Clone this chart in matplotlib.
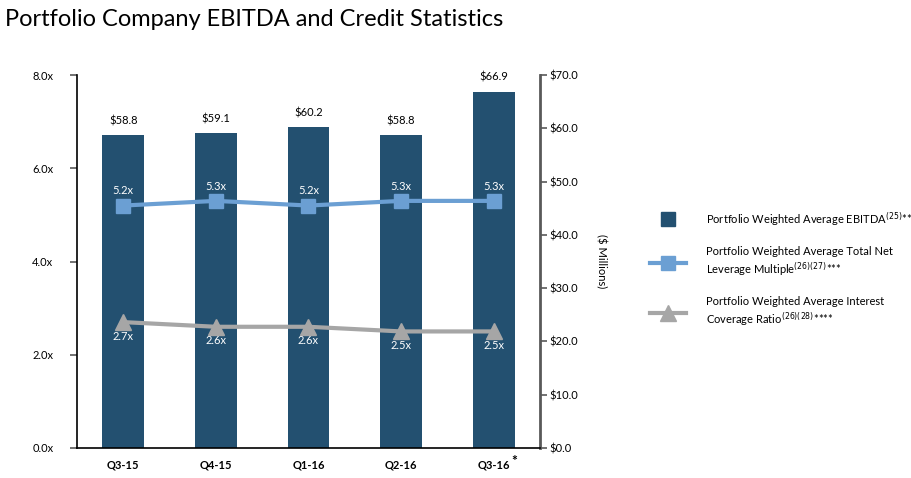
import matplotlib.pyplot as plt
from matplotlib.lines import Line2D

plt.rcParams['font.family'] = ['Lato', 'DejaVu Sans']

# ---- data ----
quarters = ["Q3-15", "Q4-15", "Q1-16", "Q2-16", "Q3-16"]
ebitda = [58.8, 59.1, 60.2, 58.8, 66.9]          # $ millions, right axis
leverage = [5.2, 5.3, 5.2, 5.3, 5.3]             # x, left axis
coverage = [2.7, 2.6, 2.6, 2.5, 2.5]             # x, left axis

bar_color = "#235070"
lev_color = "#6B9FD3"
cov_color = "#A6A6A6"

fig = plt.figure(figsize=(9.12, 4.78), dpi=100)
ax = fig.add_axes([77 / 912, 30 / 478, 463 / 912, 373 / 478])
ax2 = ax.twinx()

x = list(range(len(quarters)))

# bars go on the $ axis, lines on the multiple axis
ax2.bar(x, ebitda, width=0.45, color=bar_color, zorder=1)
for xi, v in zip(x, ebitda):
    ax2.text(xi, v + 1.6, f"${v:.1f}", ha="center", va="bottom", fontsize=8, color="black")

ax2.set_zorder(1)
ax.set_zorder(2)
ax.patch.set_visible(False)

ax.plot(x, leverage, color=lev_color, lw=3, marker="s", ms=10, zorder=3)
for xi, v in zip(x, leverage):
    ax.text(xi, v + 0.2, f"{v:.1f}x", ha="center", va="bottom", fontsize=8, color="white")

ax.plot(x, coverage, color=cov_color, lw=3, marker="^", ms=11, zorder=3)
for xi, v in zip(x, coverage):
    ax.text(xi, v - 0.18, f"{v:.1f}x", ha="center", va="top", fontsize=8, color="white")

# axes
ax.set_xlim(-0.5, 4.5)
ax.set_ylim(0, 8)
ax2.set_ylim(0, 70)
ax.set_yticks([0, 2, 4, 6, 8])
ax.set_yticklabels([f"{t:.1f}x" for t in [0, 2, 4, 6, 8]], fontsize=8)
ax2.set_yticks(range(0, 71, 10))
ax2.set_yticklabels([f"${t:.1f}" for t in range(0, 71, 10)], fontsize=8)
ax.set_xticks(x)
ax.set_xticklabels(quarters, fontsize=8, fontweight="bold")
ax.tick_params(axis="x", length=0, pad=8)
ax.tick_params(axis="y", length=5, width=1.2, color="#595959", pad=12)
ax2.tick_params(axis="y", length=5, width=1.2, color="#595959", pad=2)
ax.text(4.19, -0.15, "*", fontsize=10, fontweight="bold", va="top", ha="left")

for a in (ax, ax2):
    a.spines["top"].set_visible(False)
ax2.spines["left"].set_visible(False)
ax2.spines["bottom"].set_visible(False)
ax.spines["right"].set_visible(False)
ax.spines["left"].set_linewidth(1.2)
ax.spines["bottom"].set_linewidth(1.2)
ax2.spines["right"].set_color("#595959")
ax2.spines["right"].set_linewidth(2)

ax2.set_ylabel("($ Millions)", rotation=270, fontsize=8, va="bottom")
ax2.yaxis.set_label_coords(1.12, 0.5)

fig.text(5 / 912, 1 - 20 / 478, "Portfolio Company EBITDA and Credit Statistics",
         fontsize=17, va="center", ha="left")

# legend
handles = [
    Line2D([], [], color=bar_color, marker="s", ms=10, ls="none"),
    Line2D([], [], color=lev_color, marker="s", ms=10, lw=3),
    Line2D([], [], color=cov_color, marker="^", ms=11, lw=3),
]
labels = [
    r"Portfolio Weighted Average EBITDA$^{(25)}$**",
    "Portfolio Weighted Average Total Net\n" + r"Leverage Multiple$^{(26)(27)}$***",
    "Portfolio Weighted Average Interest\n" + r"Coverage Ratio$^{(26)(28)}$****",
]
fig.legend(handles, labels, loc="upper left", bbox_to_anchor=(640 / 912, 1 - 200 / 478),
           frameon=False, fontsize=8, handlelength=3.2, labelspacing=1.6,
           handletextpad=1.8)

fig.savefig("out.png", dpi=100)
